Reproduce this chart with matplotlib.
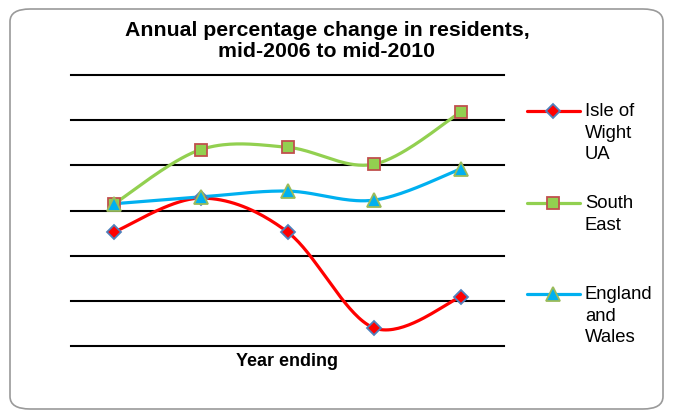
import numpy as np
import matplotlib.pyplot as plt
from matplotlib.lines import Line2D
from matplotlib.patches import FancyBboxPatch

plt.rcParams['font.family'] = ['Liberation Sans', 'DejaVu Sans']

years = ['2006-07', '2007-08', '2008-09', '2009-10', '2010-11']
iow = [0.505, 0.655, 0.505, 0.08, 0.217]
south_east = [0.63, 0.87, 0.88, 0.805, 1.036]
eng_wales = [0.63, 0.66, 0.686, 0.646, 0.784]
labels = ['Isle of\nWight\nUA', 'South\nEast', 'England\nand\nWales']


def smooth(xs, ys, n=40):
    # excel style smoothed line: bezier with catmull-rom control points
    pts = np.column_stack([xs, ys]).astype(float)
    p = np.vstack([pts[0], pts, pts[-1]])
    out = []
    t = np.linspace(0, 1, n)[:, None]
    for i in range(1, len(p) - 2):
        p0, p1, p2, p3 = p[i - 1], p[i], p[i + 1], p[i + 2]
        c1 = p1 + (p2 - p0) / 6
        c2 = p2 - (p3 - p1) / 6
        seg = ((1 - t) ** 3) * p1 + 3 * ((1 - t) ** 2) * t * c1 + 3 * (1 - t) * t ** 2 * c2 + t ** 3 * p2
        out.append(seg)
    seg = np.vstack(out)
    return seg[:, 0], seg[:, 1]


fig = plt.figure(figsize=(6.73, 4.17), dpi=100)
frame = FancyBboxPatch((10 / 673, 8 / 417), 653 / 673, 400 / 417,
                       boxstyle='round,pad=0,rounding_size=0.03',
                       transform=fig.transFigure, facecolor='none',
                       edgecolor='#9a9a9a', linewidth=1.2)
fig.add_artist(frame)

ax = fig.add_axes([71 / 673, 1 - 346 / 417, 433 / 673, 271 / 417])
ax.set_facecolor('none')
x = np.arange(len(years))

series = [
    (iow, '#ff0000', 'D', '#ff0000', '#4f81bd', 7),
    (south_east, '#92d050', 's', '#92d050', '#c0504d', 8),
    (eng_wales, '#00b0f0', '^', '#00b0f0', '#9bbb59', 10),
]
for vals, c, m, fc, ec, ms in series:
    sx, sy = smooth(x, vals)
    ax.plot(sx, sy, color=c, lw=2.3, zorder=3, solid_capstyle='round')
for vals, c, m, fc, ec, ms in series:
    ax.plot(x, vals, ls='none', marker=m, ms=ms, mfc=fc, mec=ec, mew=1.3, zorder=4)

ax.set_xlim(-0.5, len(years) - 0.5)
ax.set_ylim(0, 1.2)
ax.set_yticks(np.arange(0, 1.21, 0.2))
ax.yaxis.grid(True, color='black', lw=1.5)
for gl in ax.get_ygridlines():
    gl.set_clip_on(False)
ax.set_axisbelow(True)
ax.set_xticks([])
ax.tick_params(left=False, labelleft=False)
for s in ax.spines.values():
    s.set_visible(False)

fig.text(327 / 673, 1 - 41 / 417, 'Annual percentage change in residents,\nmid-2006 to mid-2010',
         ha='center', va='center', fontsize=15.3, fontweight='bold', linespacing=1.18)
fig.text(287 / 673, 1 - 361 / 417, 'Year ending', ha='center', va='center',
         fontsize=13, fontweight='bold')

# legend
leg_y = [111, 203, 294]
for (vals, c, m, fc, ec, ms), lab, yy in zip(series, labels, leg_y):
    fy = 1 - yy / 417
    fig.add_artist(Line2D([527 / 673, 580 / 673], [fy, fy], color=c, lw=2.3,
                          solid_capstyle='round', transform=fig.transFigure))
    fig.add_artist(Line2D([553 / 673], [fy], ls='none', marker=m, ms=ms, mfc=fc,
                          mec=ec, mew=1.3, transform=fig.transFigure))
    fig.text(585 / 673, fy + 8 / 417, lab, ha='left', va='top', fontsize=13.3,
             linespacing=1.35)

fig.savefig('out.png', dpi=100)
